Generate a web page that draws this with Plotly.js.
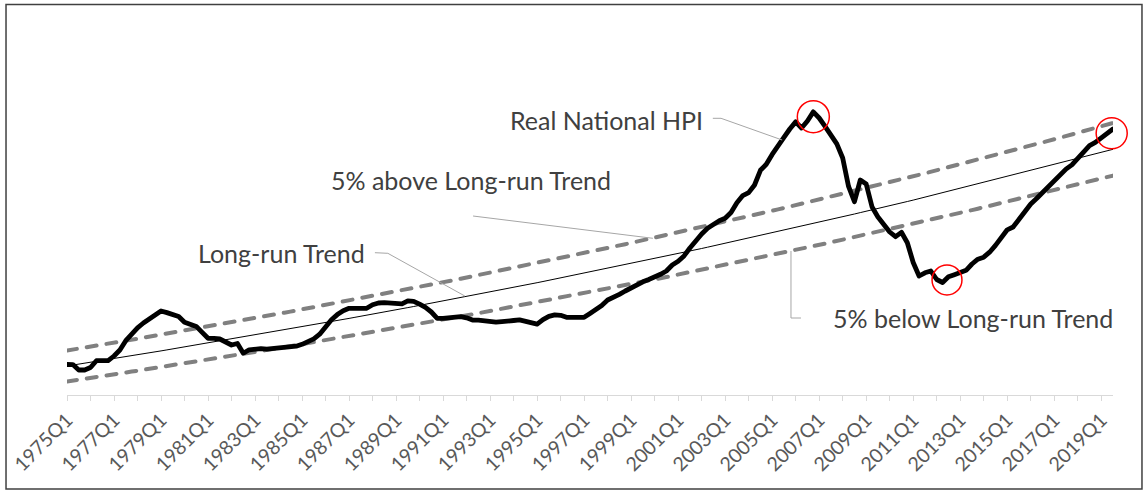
<!DOCTYPE html>
<html>
<head>
<meta charset="utf-8">
<script src="https://cdn.plot.ly/plotly-3.0.1.min.js"></script>
<style>html,body{margin:0;padding:0;background:#fff;}#chart{width:1144px;height:491px;}</style>
</head>
<body>
<div id="chart"></div>
<script>
// Quarterly categories 1975Q1 .. 2019Q3
const quarters = [];
for (let y = 1975; y <= 2019; y++) for (let q = 1; q <= 4; q++) { if (y === 2019 && q > 3) break; quarters.push(y + 'Q' + q); }

// Real National HPI (index)
const hpi = [
310.5,310.4,305,305, 307.5,314.3,314.3,314.3, 319,325,334.3,341.7, 347.2,352,355.6,360.3,
364,362.4,360.8,358.5, 352.7,351,348.6,342.6, 336.7,336.7,336,333, 330,331.5,321.7,325.2,
326.2,326.4,325.8,326.2, 326.7,327.3,328,328.8, 330.7,333.3,336.2,340.8, 349,355.2,360.4,364.3,
366.7,366.7,366.7,366.7, 370.2,372,372.3,371.8, 370.7,371.2,374.1,373.6, 370.8,367.6,363,356.7,
356.7,357.4,358.3,358.3, 357.2,355,354.9,354, 352.5,352.8,353.3,353.3, 354.5,355.2,354,351.8,
350.8,355.4,358.7,360.2, 359.7,357.7,357.7,357.7, 357.7,361.6,365,369.5, 375,377.4,380.6,384,
387.5,390.8,393.2,395.5, 397.9,400.7,404,410, 413.7,419.1,427,435, 441,446.8,451.1,454.2,
456.7,462.5,472.2,479.4, 482.4,490,504.7,510.7, 520.6,529.8,537.6,546, 553.1,547,554,563.1,
557,548.7,540.6,531.1, 517,488.6,473.3,495, 491,468,458,450.3, 443,438.3,442.7,432.3,
412.5,399,402.2,404, 395.5,392.5,398.2,400.3, 402.4,404.7,411,415.8, 417.8,422.8,429.6,437.1,
445.2,448,456,463.7, 471,476.5,482.4,488, 494.2,501.3,505.9,510.1, 516.2,523.4,529.4,532.6,
536.7,541.3,546
];

// Long-run Trend
const trend = [
309.0,309.9,310.9,311.8, 312.7,313.6,314.6,315.5, 316.5,317.4,318.4,319.3, 320.3,321.2,322.2,323.2,
324.1,325.1,326.1,327.0, 328.0,329.0,330.0,331.0, 332.0,332.9,333.9,334.9, 335.9,336.9,338.0,339.0,
340.0,341.0,342.0,343.0, 344.1,345.1,346.1,347.2, 348.2,349.2,350.3,351.3, 352.4,353.4,354.5,355.5,
356.6,357.7,358.7,359.8, 360.9,362.0,363.1,364.1, 365.2,366.3,367.4,368.5, 369.6,370.7,371.8,372.9,
374.0,375.2,376.3,377.4, 378.5,379.7,380.8,381.9, 383.1,384.2,385.4,386.5, 387.7,388.8,390.0,391.2,
392.3,393.5,394.7,395.9, 397.1,398.2,399.4,400.6, 401.8,403.0,404.2,405.4, 406.7,407.9,409.1,410.3,
411.5,412.8,414.0,415.2, 416.5,417.7,419.0,420.2, 421.5,422.8,424.0,425.3, 426.5,427.8,429.1,430.4,
431.7,433.0,434.3,435.6, 436.9,438.2,439.5,440.8, 442.1,443.4,444.8,446.1, 447.4,448.8,450.1,451.4,
452.8,454.2,455.5,456.9, 458.2,459.6,461.0,462.4, 463.7,465.1,466.5,467.9, 469.3,470.7,472.1,473.5,
474.9,476.4,477.8,479.2, 480.6,482.1,483.5,485.0, 486.4,487.9,489.3,490.8, 492.3,493.7,495.2,496.7,
498.2,499.7,501.2,502.7, 504.2,505.7,507.2,508.7, 510.2,511.7,513.3,514.8, 516.3,517.9,519.4,521.0,
522.5,524.1,525.7
];

// 5% above Long-run Trend
const above = [
324.5,325.4,326.4,327.4, 328.4,329.3,330.3,331.3, 332.3,333.3,334.3,335.3, 336.3,337.3,338.3,339.3,
340.3,341.3,342.4,343.4, 344.4,345.4,346.5,347.5, 348.6,349.6,350.6,351.7, 352.7,353.8,354.9,355.9,
357.0,358.0,359.1,360.2, 361.3,362.3,363.4,364.5, 365.6,366.7,367.8,368.9, 370.0,371.1,372.2,373.3,
374.4,375.6,376.7,377.8, 378.9,380.1,381.2,382.3, 383.5,384.6,385.8,386.9, 388.1,389.3,390.4,391.6,
392.8,393.9,395.1,396.3, 397.5,398.7,399.9,401.1, 402.2,403.4,404.7,405.9, 407.1,408.3,409.5,410.7,
412.0,413.2,414.4,415.7, 416.9,418.2,419.4,420.7, 421.9,423.2,424.5,425.7, 427.0,428.3,429.6,430.8,
432.1,433.4,434.7,436.0, 437.3,438.6,439.9,441.3, 442.6,443.9,445.2,446.5, 447.9,449.2,450.6,451.9,
453.3,454.6,456.0,457.3, 458.7,460.1,461.5,462.8, 464.2,465.6,467.0,468.4, 469.8,471.2,472.6,474.0,
475.4,476.9,478.3,479.7, 481.1,482.6,484.0,485.5, 486.9,488.4,489.8,491.3, 492.8,494.3,495.7,497.2,
498.7,500.2,501.7,503.2, 504.7,506.2,507.7,509.2, 510.7,512.3,513.8,515.3, 516.9,518.4,520.0,521.5,
523.1,524.7,526.2,527.8, 529.4,531.0,532.5,534.1, 535.7,537.3,538.9,540.6, 542.2,543.8,545.4,547.0,
548.7,550.3,552.0
];

// 5% below Long-run Trend
const below = [
293.6,294.4,295.3,296.2, 297.1,298.0,298.9,299.7, 300.6,301.5,302.4,303.4, 304.3,305.2,306.1,307.0,
307.9,308.8,309.8,310.7, 311.6,312.5,313.5,314.4, 315.4,316.3,317.2,318.2, 319.1,320.1,321.1,322.0,
323.0,323.9,324.9,325.9, 326.9,327.8,328.8,329.8, 330.8,331.8,332.8,333.8, 334.8,335.8,336.8,337.8,
338.8,339.8,340.8,341.8, 342.8,343.9,344.9,345.9, 347.0,348.0,349.0,350.1, 351.1,352.2,353.2,354.3,
355.4,356.4,357.5,358.5, 359.6,360.7,361.8,362.9, 363.9,365.0,366.1,367.2, 368.3,369.4,370.5,371.6,
372.7,373.9,375.0,376.1, 377.2,378.3,379.5,380.6, 381.7,382.9,384.0,385.2, 386.3,387.5,388.6,389.8,
391.0,392.1,393.3,394.5, 395.7,396.8,398.0,399.2, 400.4,401.6,402.8,404.0, 405.2,406.4,407.7,408.9,
410.1,411.3,412.6,413.8, 415.0,416.3,417.5,418.8, 420.0,421.3,422.5,423.8, 425.1,426.3,427.6,428.9,
430.2,431.4,432.7,434.0, 435.3,436.6,437.9,439.2, 440.6,441.9,443.2,444.5, 445.8,447.2,448.5,449.8,
451.2,452.5,453.9,455.3, 456.6,458.0,459.4,460.7, 462.1,463.5,464.9,466.3, 467.7,469.0,470.4,471.8,
473.3,474.7,476.1,477.5, 479.0,480.4,481.8,483.3, 484.7,486.2,487.6,489.1, 490.5,492.0,493.5,494.9,
496.4,497.9,499.4
];

// Tick marks each year, labels every second year
const tickVals = quarters.filter((q, i) => i % 4 === 0);
const tickText = quarters.map((q, i) => i % 4 === 0 ? (i % 8 === 0 ? q : '') : null).filter(t => t !== null);

const labelFont = {family: 'Lato, "Open Sans", sans-serif', size: 25, color: '#404040'};
const leader = {color: '#A6A6A6', width: 1};

const traces = [
  {x: quarters, y: above, type: 'scatter', mode: 'lines', name: '5% above Long-run Trend',
   line: {color: '#808080', width: 4, dash: '10px,10px'}, hoverinfo: 'skip'},
  {x: quarters, y: below, type: 'scatter', mode: 'lines', name: '5% below Long-run Trend',
   line: {color: '#808080', width: 4, dash: '10px,10px'}, hoverinfo: 'skip'},
  {x: quarters, y: trend, type: 'scatter', mode: 'lines', name: 'Long-run Trend',
   line: {color: '#000000', width: 1}, hoverinfo: 'skip'},
  {x: quarters, y: hpi, type: 'scatter', mode: 'lines', name: 'Real National HPI',
   line: {color: '#000000', width: 4.8}, hoverinfo: 'skip'}
];

const layout = {
  width: 1144, height: 491,
  margin: {l: 67, r: 31, t: 20, b: 96},
  paper_bgcolor: '#ffffff', plot_bgcolor: '#ffffff',
  showlegend: false,
  font: {family: 'Lato, "Open Sans", sans-serif'},
  xaxis: {
    type: 'category', range: [0, 178], tickvals: tickVals, ticktext: tickText,
    tickangle: -45, ticks: 'outside', ticklen: 5, tickcolor: '#D9D9D9', tickwidth: 1,
    showline: true, linecolor: '#D9D9D9', linewidth: 1, showgrid: false, zeroline: false,
    tickfont: {family: 'Lato, "Open Sans", sans-serif', size: 19.5, color: '#595959'},
    fixedrange: true
  },
  yaxis: {range: [280, 655], visible: false, fixedrange: true},
  annotations: [
    {x: 108.6, y: 555, xref: 'x', yref: 'y', text: 'Real National HPI', showarrow: false, xanchor: 'right', yanchor: 'middle', font: labelFont},
    {x: 92.9, y: 495, xref: 'x', yref: 'y', text: '5% above Long-run Trend', showarrow: false, xanchor: 'right', yanchor: 'middle', font: labelFont},
    {x: 51.1, y: 422, xref: 'x', yref: 'y', text: 'Long-run Trend', showarrow: false, xanchor: 'right', yanchor: 'middle', font: labelFont},
    {x: 130.0, y: 357, xref: 'x', yref: 'y', text: '5% below Long-run Trend', showarrow: false, xanchor: 'left', yanchor: 'middle', font: labelFont}
  ],
  shapes: [
    {type: 'path', xref: 'x', yref: 'y', path: 'M109.9,556.7 L111.3,556.7 L121.7,535', line: leader},
    {type: 'path', xref: 'x', yref: 'y', path: 'M69.1,459 L99.7,436.7', line: leader},
    {type: 'path', xref: 'x', yref: 'y', path: 'M52.4,422.3 L54.6,421.7 L67.7,379', line: leader},
    {type: 'path', xref: 'x', yref: 'y', path: 'M123.2,424 L123.2,357 L124.9,357', line: leader},
    {type: 'circle', xref: 'paper', yref: 'paper', x0: 0.6982, x1: 0.7288, y0: 0.6995, y1: 0.7848, line: {color: '#FF0000', width: 1.5}},
    {type: 'circle', xref: 'paper', yref: 'paper', x0: 0.8270, x1: 0.8556, y0: 0.2667, y1: 0.3467, line: {color: '#FF0000', width: 1.5}},
    {type: 'circle', xref: 'paper', yref: 'paper', x0: 0.9839, x1: 1.0136, y0: 0.6565, y1: 0.7392, line: {color: '#FF0000', width: 1.5}},
    {type: 'rect', xref: 'paper', yref: 'paper', x0: -0.0583, x1: 1.0277, y0: -0.2507, y1: 1.0413, line: {color: '#404040', width: 1.5}}
  ]
};

Plotly.newPlot('chart', traces, layout, {displayModeBar: false, staticPlot: true}).then(function (gd) {
  const paths = gd.querySelectorAll('.scatterlayer .trace path.js-line');
  paths.forEach(function (p) {
    p.style.strokeLinecap = 'round';
    p.style.strokeLinejoin = 'round';
  });
});
</script>
</body>
</html>
